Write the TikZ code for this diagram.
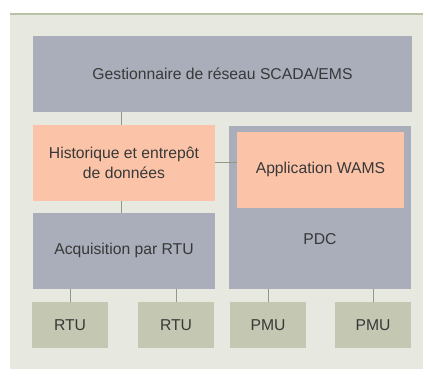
\documentclass[tikz,border=0pt]{standalone}
\usepackage{fontspec}
\setmainfont{Liberation Sans}
\definecolor{panel}{HTML}{E7E8E0}
\definecolor{topline}{HTML}{B8C2A5}
\definecolor{boxgray}{HTML}{A9AEBA}
\definecolor{boxsalmon}{HTML}{FBC4A8}
\definecolor{boxgreen}{HTML}{C4C8B2}
\definecolor{conn}{HTML}{8C9C84}
\definecolor{txt}{HTML}{383838}
\begin{document}
\begin{tikzpicture}[x=1pt,y=-1pt,
  blk/.style={rectangle, inner sep=0pt, text=txt, align=center,
    font=\fontsize{15.7}{20.7}\selectfont},
  graybox/.style={blk, fill=boxgray},
  salmonbox/.style={blk, fill=boxsalmon},
  greenbox/.style={blk, fill=boxgreen, minimum width=76pt, minimum height=45.7pt},
  link/.style={draw=conn, line width=0.9pt}]
\useasboundingbox (0,0) rectangle (423,369);
\fill[panel] (10,14) rectangle (423,369);
\draw[topline, line width=2pt] (10,14) -- (423,14);

\node[graybox, minimum width=379pt, minimum height=75.7pt] (scada) at (222.5,73.8) {Gestionnaire de réseau SCADA/EMS};
\node[salmonbox, minimum width=182pt, minimum height=75.7pt] (hist) at (124,162.9) {Historique et entrepôt\\de données};
\node[graybox, minimum width=182pt, minimum height=163pt] (pdc) at (320,207.2) {};
\node[blk] (pdclabel) at (320,239.5) {PDC};
\node[salmonbox, minimum width=167pt, minimum height=75.7pt] (wams) at (320.5,169.9) {Application WAMS};
\node[graybox, minimum width=182pt, minimum height=75.7pt] (acq) at (124,250.9) {Acquisition par RTU};

\node[greenbox] (rtu1) at (70,325) {RTU};
\node[greenbox] (rtu2) at (176,325) {RTU};
\node[greenbox] (pmu1) at (268,325) {PMU};
\node[greenbox] (pmu2) at (373,325) {PMU};

\draw[link] ([xshift=-3pt]scada.south -| hist.north) -- ([xshift=-3pt]hist.north);
\draw[link] ([xshift=-3pt]hist.south) -- ([xshift=-3pt]acq.north);
\draw[link] (hist.east) -- (hist.east -| wams.west);
\draw[link] (acq.south -| rtu1.north) -- (rtu1.north);
\draw[link] (acq.south -| rtu2.north) -- (rtu2.north);
\draw[link] (pdc.south -| pmu1.north) -- (pmu1.north);
\draw[link] (pdc.south -| pmu2.north) -- (pmu2.north);
\end{tikzpicture}
\end{document}
